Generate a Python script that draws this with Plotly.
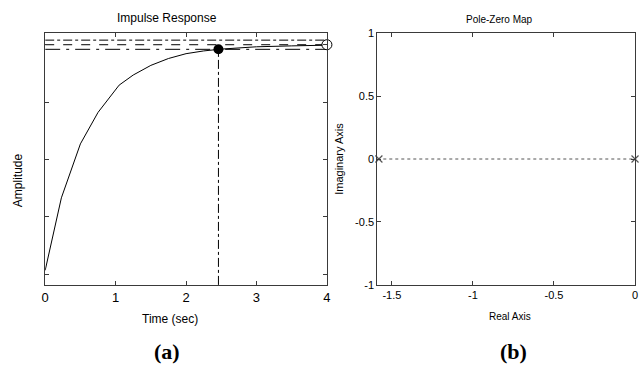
import plotly.graph_objects as go

# ---- data (a) impulse response ----
time_s = [0.0, 0.09, 0.23, 0.5, 0.75, 1.05, 1.25, 1.5, 1.75, 2.0, 2.25, 2.5, 2.75, 3.0, 3.5, 4.0]
amplitude = [0.017, 0.145, 0.333, 0.568, 0.705, 0.824, 0.868, 0.91, 0.94, 0.961, 0.973, 0.981, 0.987, 0.991, 0.995, 0.998]
final_value = 1.0
settle_upper = 1.02
settle_lower = 0.98
settle_time = 2.46
settle_amp = 0.98
amp_ticks = [0, 0.25, 0.5, 0.75, 1.0]
time_ticks = [0, 1, 2, 3, 4]

# ---- data (b) pole-zero map ----
pole_re = [-1.58, 0.0]
pole_im = [0.0, 0.0]
re_ticks = [-1.5, -1, -0.5, 0]
re_tick_text = ["-1.5", "-1", "-0.5", "0"]
im_ticks = [-1, -0.5, 0, 0.5, 1]
im_tick_text = ["-1", "-0.5", "0", "0.5", "1"]

AX = "#3a3a3a"
FONT = "Arial, Liberation Sans, sans-serif"

fig = go.Figure()

# settling bounds / final value lines
for yv, dash in [(settle_upper, "dashdot"), (final_value, "dash"), (settle_lower, "longdashdot")]:
    fig.add_trace(go.Scatter(x=[time_ticks[0], time_ticks[-1]], y=[yv, yv], mode="lines",
                             line=dict(color="black", width=1, dash=dash),
                             xaxis="x", yaxis="y", showlegend=False, hoverinfo="skip"))

# vertical settle line
fig.add_trace(go.Scatter(x=[settle_time, settle_time], y=[-0.0464, settle_amp], mode="lines",
                         line=dict(color="black", width=1, dash="dashdot"),
                         xaxis="x", yaxis="y", showlegend=False, hoverinfo="skip"))

# response curve
fig.add_trace(go.Scatter(x=time_s, y=amplitude, mode="lines",
                         line=dict(color="black", width=1),
                         xaxis="x", yaxis="y", showlegend=False))

# settle marker
fig.add_trace(go.Scatter(x=[settle_time], y=[settle_amp], mode="markers",
                         marker=dict(color="black", size=10),
                         xaxis="x", yaxis="y", showlegend=False))
# final value marker
fig.add_trace(go.Scatter(x=[time_ticks[-1]], y=[final_value], mode="markers",
                         marker=dict(color="white", size=10, line=dict(color="black", width=1)),
                         xaxis="x", yaxis="y", showlegend=False, cliponaxis=False))

# pole-zero: dotted real axis line
fig.add_trace(go.Scatter(x=[-1.59, 0.0], y=pole_im, mode="lines",
                         line=dict(color="#555555", width=1, dash="dot"),
                         xaxis="x2", yaxis="y2", showlegend=False, hoverinfo="skip"))
fig.add_trace(go.Scatter(x=pole_re, y=pole_im, mode="markers", cliponaxis=False,
                         marker=dict(symbol="x-thin", size=7, line=dict(color="#555555", width=1.2)),
                         xaxis="x2", yaxis="y2", showlegend=False))

common_axis = dict(showline=True, linecolor=AX, linewidth=1, mirror="ticks", ticks="inside",
                   ticklen=4, tickcolor=AX, showgrid=False, zeroline=False,
                   tickfont=dict(family=FONT, color="black"))

fig.update_layout(
    width=641, height=380,
    margin=dict(l=0, r=0, t=0, b=0),
    paper_bgcolor="white", plot_bgcolor="white",
    xaxis=dict(domain=[41.7 / 641, 327 / 641], range=[0, 4], tickvals=time_ticks,
               anchor="y", **{**common_axis, "tickfont": dict(family=FONT, size=13, color="black")}),
    yaxis=dict(domain=[1 - 288 / 380, 1 - 28 / 380], range=[-0.0464, 1.0506], tickvals=amp_ticks,
               ticktext=[""] * len(amp_ticks), anchor="x", **common_axis),
    xaxis2=dict(domain=[378 / 641, 639 / 641], range=[-1.59, 0], tickvals=re_ticks, ticktext=re_tick_text,
                anchor="y2", **{**common_axis, "tickfont": dict(family=FONT, size=11, color="black")}),
    yaxis2=dict(domain=[1 - 288 / 380, 1 - 28 / 380], range=[-1, 1], tickvals=im_ticks, ticktext=im_tick_text,
                anchor="x2", **{**common_axis, "tickfont": dict(family=FONT, size=11, color="black")}),
)

ann = [
    dict(text="Impulse Response", x=165 / 641, y=1 - 12 / 380, size=12),
    dict(text="Pole-Zero Map", x=502 / 641, y=1 - 14 / 380, size=10),
    dict(text="Time (sec)", x=168 / 641, y=1 - 323 / 380, size=12),
    dict(text="Real Axis", x=512 / 641, y=1 - 321 / 380, size=10),
]
for a in ann:
    fig.add_annotation(text=a["text"], x=a["x"], y=a["y"], xref="paper", yref="paper",
                       showarrow=False, xanchor="center", yanchor="middle",
                       font=dict(family=FONT, size=a["size"], color="black"))
fig.add_annotation(text="Amplitude", x=14 / 641, y=1 - 180 / 380, xref="paper", yref="paper",
                   showarrow=False, textangle=-90, xanchor="center", yanchor="middle",
                   font=dict(family=FONT, size=12, color="black"))
fig.add_annotation(text="Imaginary Axis", x=339 / 641, y=1 - 158 / 380, xref="paper", yref="paper",
                   showarrow=False, textangle=-90, xanchor="center", yanchor="middle",
                   font=dict(family=FONT, size=11, color="black"))
for t, xp in [("(a)", 165), ("(b)", 516)]:
    fig.add_annotation(text="<b>" + t + "</b>", x=xp / 641, y=1 - 357 / 380, xref="paper", yref="paper",
                       showarrow=False, xanchor="center", yanchor="middle",
                       font=dict(family="Liberation Serif, Times New Roman, serif", size=22, color="black"))

fig.write_html("out.html")
